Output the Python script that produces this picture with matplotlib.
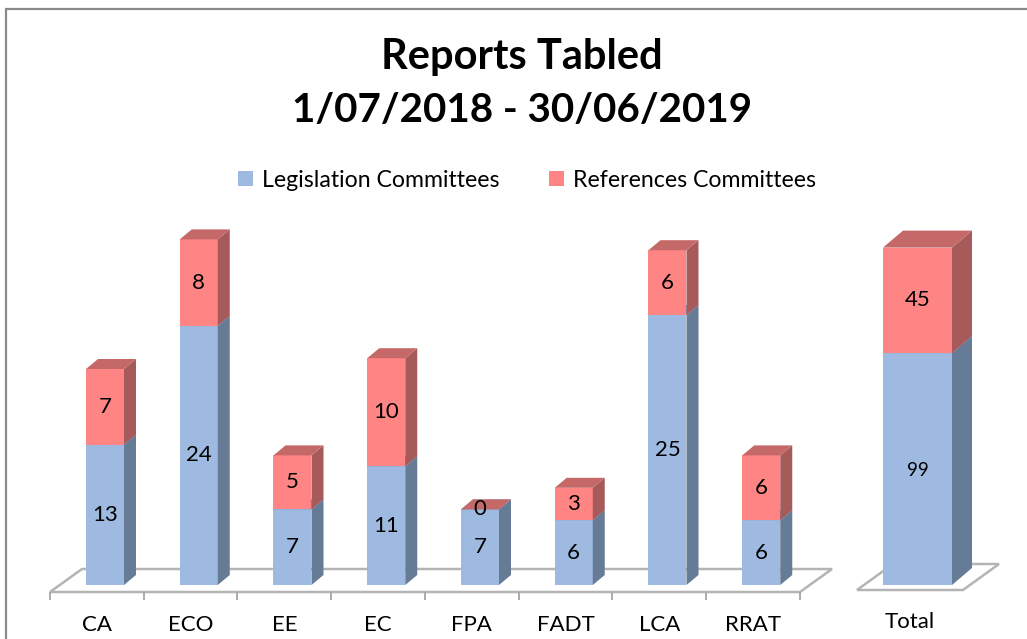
import matplotlib
matplotlib.use("Agg")
import matplotlib.pyplot as plt
from matplotlib.patches import Polygon, Rectangle, Patch

plt.rcParams['font.family'] = ['Lato', 'DejaVu Sans']

# ---------------- data ----------------
categories = ["CA", "ECO", "EE", "EC", "FPA", "FADT", "LCA", "RRAT"]
legislation = [13, 24, 7, 11, 7, 6, 25, 6]
references = [7, 8, 5, 10, 0, 3, 6, 6]
total_label = "Total"
total_legislation = [99]
total_references = [45]
series_names = ["Legislation Committees", "References Committees"]
title_lines = ["Reports Tabled", "1/07/2018 - 30/06/2019"]

# ---------------- style ----------------
BLUE = dict(front="#9EBAE1", side="#667B95", top="#8198BA")
RED = dict(front="#FF8585", side="#A65A5A", top="#C46868")
FLOOR_EDGE = "#b4b4b4"
LABEL_FS = 16
CAT_FS = 16

W, H = 1027, 639
fig = plt.figure(figsize=(W / 100, H / 100), dpi=100)
fig.patch.set_facecolor("white")


def px_axes(x0, x1, y_top, y_bot):
    return fig.add_axes([x0 / W, 1 - y_bot / H, (x1 - x0) / W, (y_bot - y_top) / H])


def draw_bar3d(ax, x, w, y0, y1, dx, dy, col, zo):
    ax.add_patch(Rectangle((x, y0), w, y1 - y0, facecolor=col["front"],
                           edgecolor="none", zorder=zo))
    ax.add_patch(Polygon([(x + w, y0), (x + w + dx, y0 + dy), (x + w + dx, y1 + dy), (x + w, y1)],
                         closed=True, facecolor=col["side"], edgecolor="none", zorder=zo))
    ax.add_patch(Polygon([(x, y1), (x + dx, y1 + dy), (x + w + dx, y1 + dy), (x + w, y1)],
                         closed=True, facecolor=col["top"], edgecolor="none", zorder=zo))


def draw_panel(ax, labels, leg, ref, slot_px, unit_px, base_py, floor_front_py, floor_back_py,
               floor_dx_px, bar_off_px, bar_w_px, depth_dx_px, depth_dy_px, label_fs,
               ticks=True, cat_py=625):
    n = len(labels)
    fy0 = (base_py - floor_front_py) / unit_px
    fy1 = (base_py - floor_back_py) / unit_px
    fdx = floor_dx_px / slot_px
    ax.add_patch(Polygon([(0, fy0), (n, fy0), (n + fdx, fy1), (fdx, fy1)], closed=True,
                         facecolor="white", edgecolor=FLOOR_EDGE, linewidth=1.8, zorder=1))
    if ticks:
        tick_len = 8 / unit_px
        for k in range(n + 1):
            ax.plot([k, k], [fy0, fy0 - tick_len], color="#a6a6a6", lw=1.3, zorder=1,
                    solid_capstyle="butt")
    off = bar_off_px / slot_px
    bw = bar_w_px / slot_px
    ddx = depth_dx_px / slot_px
    ddy = depth_dy_px / unit_px
    texts = []
    for i in range(n):
        x = i + off
        l, r = leg[i], ref[i]
        zo = 10 + i
        draw_bar3d(ax, x, bw, 0, l, ddx, ddy, BLUE, zo)
        draw_bar3d(ax, x, bw, l, l + r, ddx, ddy, RED, zo + 0.5)
        t1 = ax.text(x + bw / 2, l / 2, str(l), ha="center", va="center", fontsize=label_fs,
                     color="black", zorder=50)
        t2 = ax.text(x + bw / 2, l + r / 2, str(r), ha="center", va="center", fontsize=label_fs,
                     color="black", zorder=50)
        texts.append((t1, t2))
        ax.text(i + 0.5, (base_py - cat_py) / unit_px, labels[i], ha="center", va="center",
                fontsize=CAT_FS, color="black")
    return texts


# main panel
slot = 93.75
unit = 10.8
ax1 = px_axes(40, 845, 200, 639)
ax1.set_xlim((40 - 50) / slot, (845 - 50) / slot)
ax1.set_ylim((585 - 639) / unit, (585 - 200) / unit)
ax1.axis("off")
draw_panel(ax1, categories, legislation, references, slot, unit, 585, 592, 569, 32,
           36, 38, 12, 10, LABEL_FS)

# total panel
slot2 = 106
unit2 = 2.343
ax2 = px_axes(845, 1027, 200, 639)
ax2.set_xlim((845 - 857) / slot2, (1027 - 857) / slot2)
ax2.set_ylim((585 - 639) / unit2, (585 - 200) / unit2)
ax2.axis("off")
tt = draw_panel(ax2, [total_label], total_legislation, total_references, slot2, unit2, 585, 590,
                564, 36, 26, 69, 20, 17, LABEL_FS, ticks=False, cat_py=622)
# the legislation total label sits high in its segment, slightly smaller
t99 = tt[0][0]
t99.set_fontsize(13.5)
t99.set_position((t99.get_position()[0], (585 - 470) / unit2))

# title
fig.text(522 / W, 1 - 57 / H, title_lines[0], ha="center", va="center", fontsize=30,
         fontweight="bold")
fig.text(522 / W, 1 - 110 / H, title_lines[1], ha="center", va="center", fontsize=29,
         fontweight="bold")

# legend
handles = [Patch(facecolor=BLUE["front"], edgecolor="none"),
           Patch(facecolor=RED["front"], edgecolor="none")]
fig.legend(handles, series_names, loc="center", bbox_to_anchor=(527 / W, 1 - 180 / H),
           ncol=2, frameon=False, fontsize=16.7, handlelength=0.65, handleheight=0.65,
           handletextpad=0.4, columnspacing=2.1)

# outer frame (cropped at right/bottom)
fig.add_artist(Rectangle((6 / W, -0.05), 1.2, (H - 9) / H + 0.05, transform=fig.transFigure,
                         facecolor="none", edgecolor="#8a8a8a", linewidth=1.6, clip_on=False))

fig.savefig("out.png", dpi=100)
